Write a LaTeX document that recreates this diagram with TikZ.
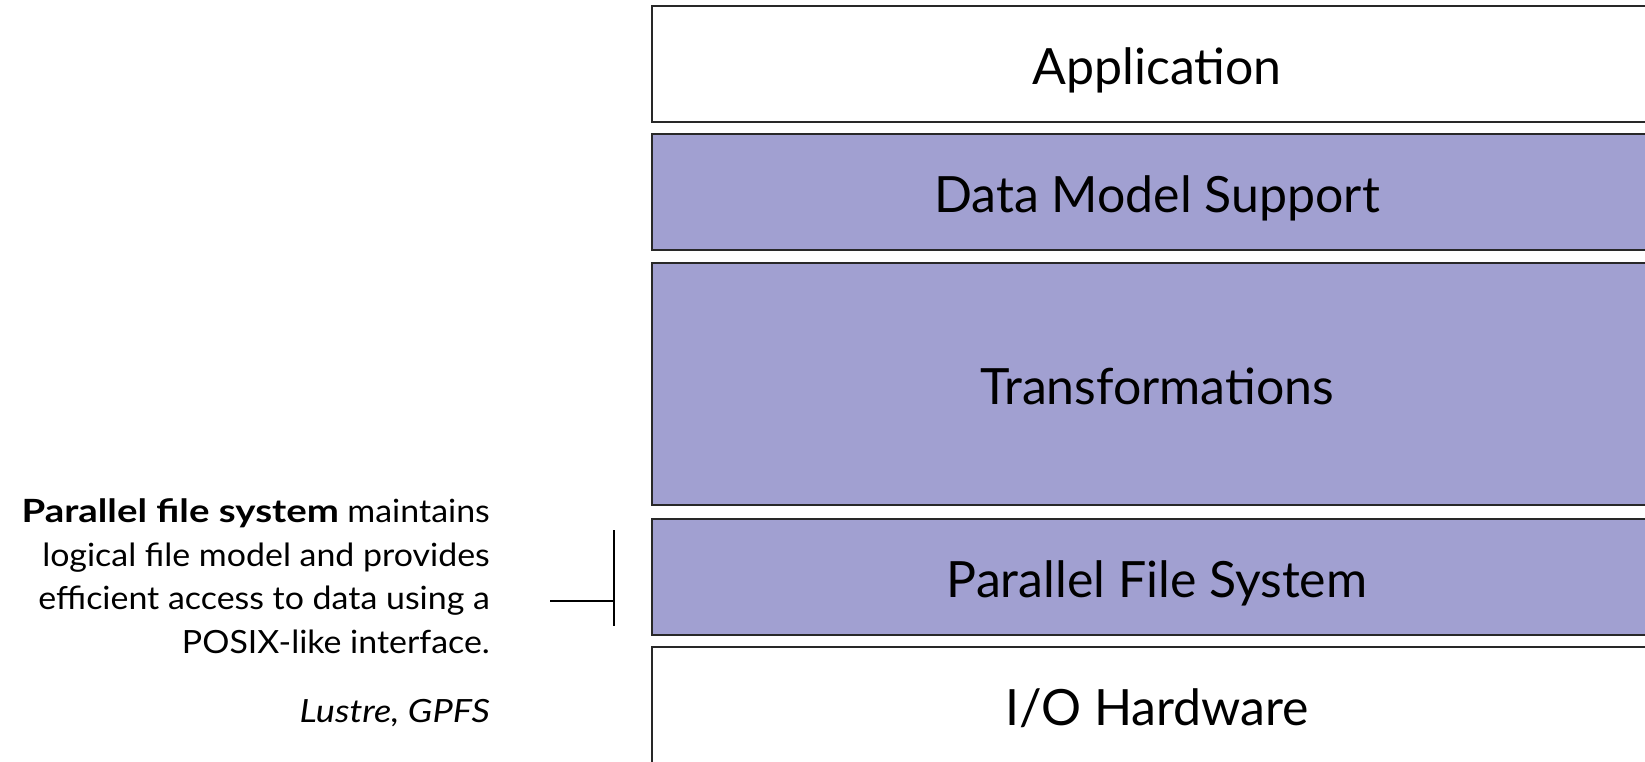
\documentclass[tikz,border=0pt]{standalone}
\usepackage{fontspec}
\setmainfont{Lato}
\newfontfamily\notefont[FakeStretch=1.06,
  BoldFeatures={FakeStretch=1.2},
  ItalicFeatures={FakeStretch=1.13}]{Lato}
\definecolor{layerfill}{RGB}{161,160,209}
\definecolor{layeredge}{RGB}{40,40,40}
\begin{document}
\begin{tikzpicture}[x=1pt,y=-1pt,
  layer/.style={draw=layeredge, line width=1.4pt, rectangle, inner sep=0pt,
    minimum width=1010pt, text height=40pt, text depth=0pt,
    font=\fontsize{50}{60}\selectfont},
  shaded/.style={layer, fill=layerfill},
  plain/.style={layer, fill=white},
  note/.style={inner sep=0pt, font=\notefont\fontsize{32}{43.5}\selectfont},
  bracket/.style={line width=1.2pt, draw=black}]
\useasboundingbox (0,0) rectangle (1645,761);

% protocol stack, top to bottom
\node[plain,  minimum height=116pt] (app)  at (1157,64)  {Application};
\node[shaded, minimum height=116pt] (dms)  at (1157,192) {Data Model Support};
\node[shaded, minimum height=242pt] (tr)   at (1157,384) {Transformations};
\node[shaded, minimum height=116pt] (pfs)  at (1157,577) {Parallel File System};
\node[plain,  minimum height=116pt] (hw)   at (1157,705) {I/O Hardware};

% description of the highlighted layer
\node[note, align=right, anchor=base east] (desc) at (490,653)
  {\textbf{Parallel file system} maintains\\
   logical file model and provides\\
   efficient access to data using a\\
   POSIX-like interface.};
\node[note, anchor=base east] (ex) at (490,722) {\textit{Lustre, GPFS}};

% bracket pointing at the parallel file system layer
\coordinate (bt) at (614,530);
\coordinate (bb) at (614,626);
\coordinate (bm) at (614,601);
\coordinate (bl) at (550,601);
\draw[bracket] (bt) -- (bb);
\draw[bracket] (bl) -- (bm);
\end{tikzpicture}
\end{document}
